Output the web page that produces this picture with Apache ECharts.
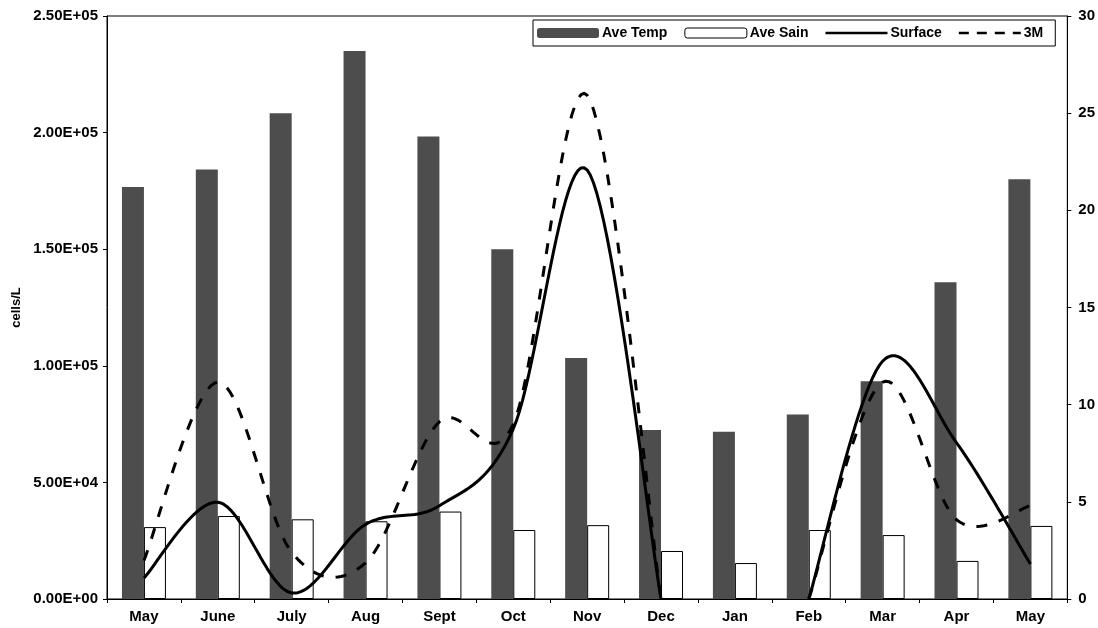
<!DOCTYPE html>
<html>
<head>
<meta charset="utf-8">
<script src="https://cdn.jsdelivr.net/npm/echarts@6/dist/echarts.min.js"></script>
<style>html,body{margin:0;padding:0;background:#fff}#c{width:1098px;height:628px}</style>
</head>
<body>
<div id="c"></div>
<script>
// ---- data ----
const months = ['May','June','July','Aug','Sept','Oct','Nov','Dec','Jan','Feb','Mar','Apr','May'];
const aveTemp = [21.2, 22.1, 25.0, 28.2, 23.8, 18.0, 12.4, 8.7, 8.6, 9.5, 11.2, 16.3, 21.6];
const aveSain = [3.7, 4.27, 4.1, 4.0, 4.5, 3.55, 3.8, 2.47, 1.85, 3.55, 3.29, 1.96, 3.76];
const surface = [9000, 41500, 2600, 32000, 40000, 73000, 184000, 0, null, 0, 102000, 67000, 15000];
const threeM  = [16500, 93000, 20000, 15500, 76000, 75000, 216000, 0, null, 0, 93000, 34000, 40000];
const leftTicks  = ['0.00E+00','5.00E+04','1.00E+05','1.50E+05','2.00E+05','2.50E+05'];
const rightTicks = ['0','5','10','15','20','25','30'];

const FONT = 'Liberation Sans';
const chart = echarts.init(document.getElementById('c'), null, {renderer: 'canvas'});
const labelStyle = {color: '#000', fontFamily: FONT, fontWeight: 'bold', fontSize: 15};
const axLine = {show: true, lineStyle: {color: '#000', width: 1}};

// Excel-like smoothed line (Catmull-Rom Bezier) drawn through the axis scales
function bezierPoints(run) {
  const out = [];
  const n = run.length;
  if (n === 1) return [run[0]];
  out.push(run[0]);
  for (let i = 0; i < n - 1; i++) {
    const p0 = run[Math.max(0, i - 1)], p1 = run[i], p2 = run[i + 1], p3 = run[Math.min(n - 1, i + 2)];
    const c1 = [p1[0] + (p2[0] - p0[0]) / 6, p1[1] + (p2[1] - p0[1]) / 6];
    const c2 = [p2[0] - (p3[0] - p1[0]) / 6, p2[1] - (p3[1] - p1[1]) / 6];
    const steps = 24;
    for (let s = 1; s <= steps; s++) {
      const t = s / steps, u = 1 - t;
      out.push([
        u*u*u*p1[0] + 3*u*u*t*c1[0] + 3*u*t*t*c2[0] + t*t*t*p2[0],
        u*u*u*p1[1] + 3*u*u*t*c1[1] + 3*u*t*t*c2[1] + t*t*t*p2[1]
      ]);
    }
  }
  return out;
}
function smoothSeries(name, values, dash) {
  return {
    name: name, type: 'custom', yAxisIndex: 0, z: 5, silent: true,
    itemStyle: {color: '#000'},
    data: values.map((v, i) => [i, v]),
    encode: {x: 0, y: 1},
    renderItem: function (params, api) {
      if (params.dataIndex !== 0) return null;
      const runs = []; let cur = [];
      values.forEach((v, i) => {
        if (v == null) { if (cur.length) runs.push(cur); cur = []; }
        else cur.push(api.coord([i, v]));
      });
      if (cur.length) runs.push(cur);
      return {
        type: 'group',
        children: runs.map(run => ({
          type: 'polyline',
          shape: {points: bezierPoints(run)},
          style: {stroke: '#000', lineWidth: 3, fill: null, lineDash: dash, lineJoin: 'round'}
        }))
      };
    }
  };
}

chart.setOption({
  animation: false,
  backgroundColor: '#fff',
  grid: {left: 107, right: 27, top: 16, bottom: 29, show: true, borderColor: '#000', borderWidth: 1, backgroundColor: 'transparent'},
  legend: {
    left: 533, top: 20,
    itemWidth: 62, itemHeight: 10, itemGap: 17,
    padding: [6, 12, 6, 4],
    borderColor: '#000', borderWidth: 1,
    symbolKeepAspect: true,
    textStyle: {color: '#000', fontFamily: FONT, fontWeight: 'bold', fontSize: 14, padding: [0, 0, 0, -2]},
    data: [
      {name: 'Ave Temp'},
      {name: 'Ave Sain', itemStyle: {borderWidth: 1}},
      {name: 'Surface', icon: 'path://M0,0h62v2.5h-62z'},
      {name: '3M', icon: 'path://M0,0h10v2.5h-10zM18,0h10v2.5h-10zM36,0h10v2.5h-10zM54,0h8v2.5h-8z'}
    ]
  },
  xAxis: {
    type: 'category', data: months, boundaryGap: true,
    axisLine: axLine,
    axisTick: {show: true, length: 4, lineStyle: {color: '#000'}},
    axisLabel: Object.assign({interval: 0, margin: 10}, labelStyle),
    splitLine: {show: false}
  },
  yAxis: [
    {
      type: 'value', position: 'left', min: 0, max: 250000, interval: 50000,
      name: 'cells/L', nameLocation: 'middle', nameGap: 81, nameRotate: 90,
      nameTextStyle: {color: '#000', fontFamily: FONT, fontWeight: 'bold', fontSize: 13},
      axisLine: axLine,
      axisTick: {show: true, length: 4, lineStyle: {color: '#000'}},
      axisLabel: Object.assign({margin: 9, formatter: v => leftTicks[Math.round(v / 50000)]}, labelStyle),
      splitLine: {show: false}
    },
    {
      type: 'value', position: 'right', min: 0, max: 30, interval: 5,
      axisLine: axLine,
      axisTick: {show: true, length: 4, lineStyle: {color: '#000'}},
      axisLabel: Object.assign({margin: 11, formatter: v => rightTicks[Math.round(v / 5)]}, labelStyle),
      splitLine: {show: false}
    }
  ],
  series: [
    {
      name: 'Ave Temp', type: 'bar', yAxisIndex: 1, data: aveTemp,
      barWidth: 22, barGap: '0%',
      itemStyle: {color: '#4d4d4d'}
    },
    {
      name: 'Ave Sain', type: 'bar', yAxisIndex: 1, data: aveSain,
      barWidth: 22, barGap: '0%',
      itemStyle: {color: '#ffffff', borderColor: '#000', borderWidth: 1}
    },
    smoothSeries('Surface', surface, null),
    smoothSeries('3M', threeM, [11, 12])
  ]
});
</script>
</body>
</html>
